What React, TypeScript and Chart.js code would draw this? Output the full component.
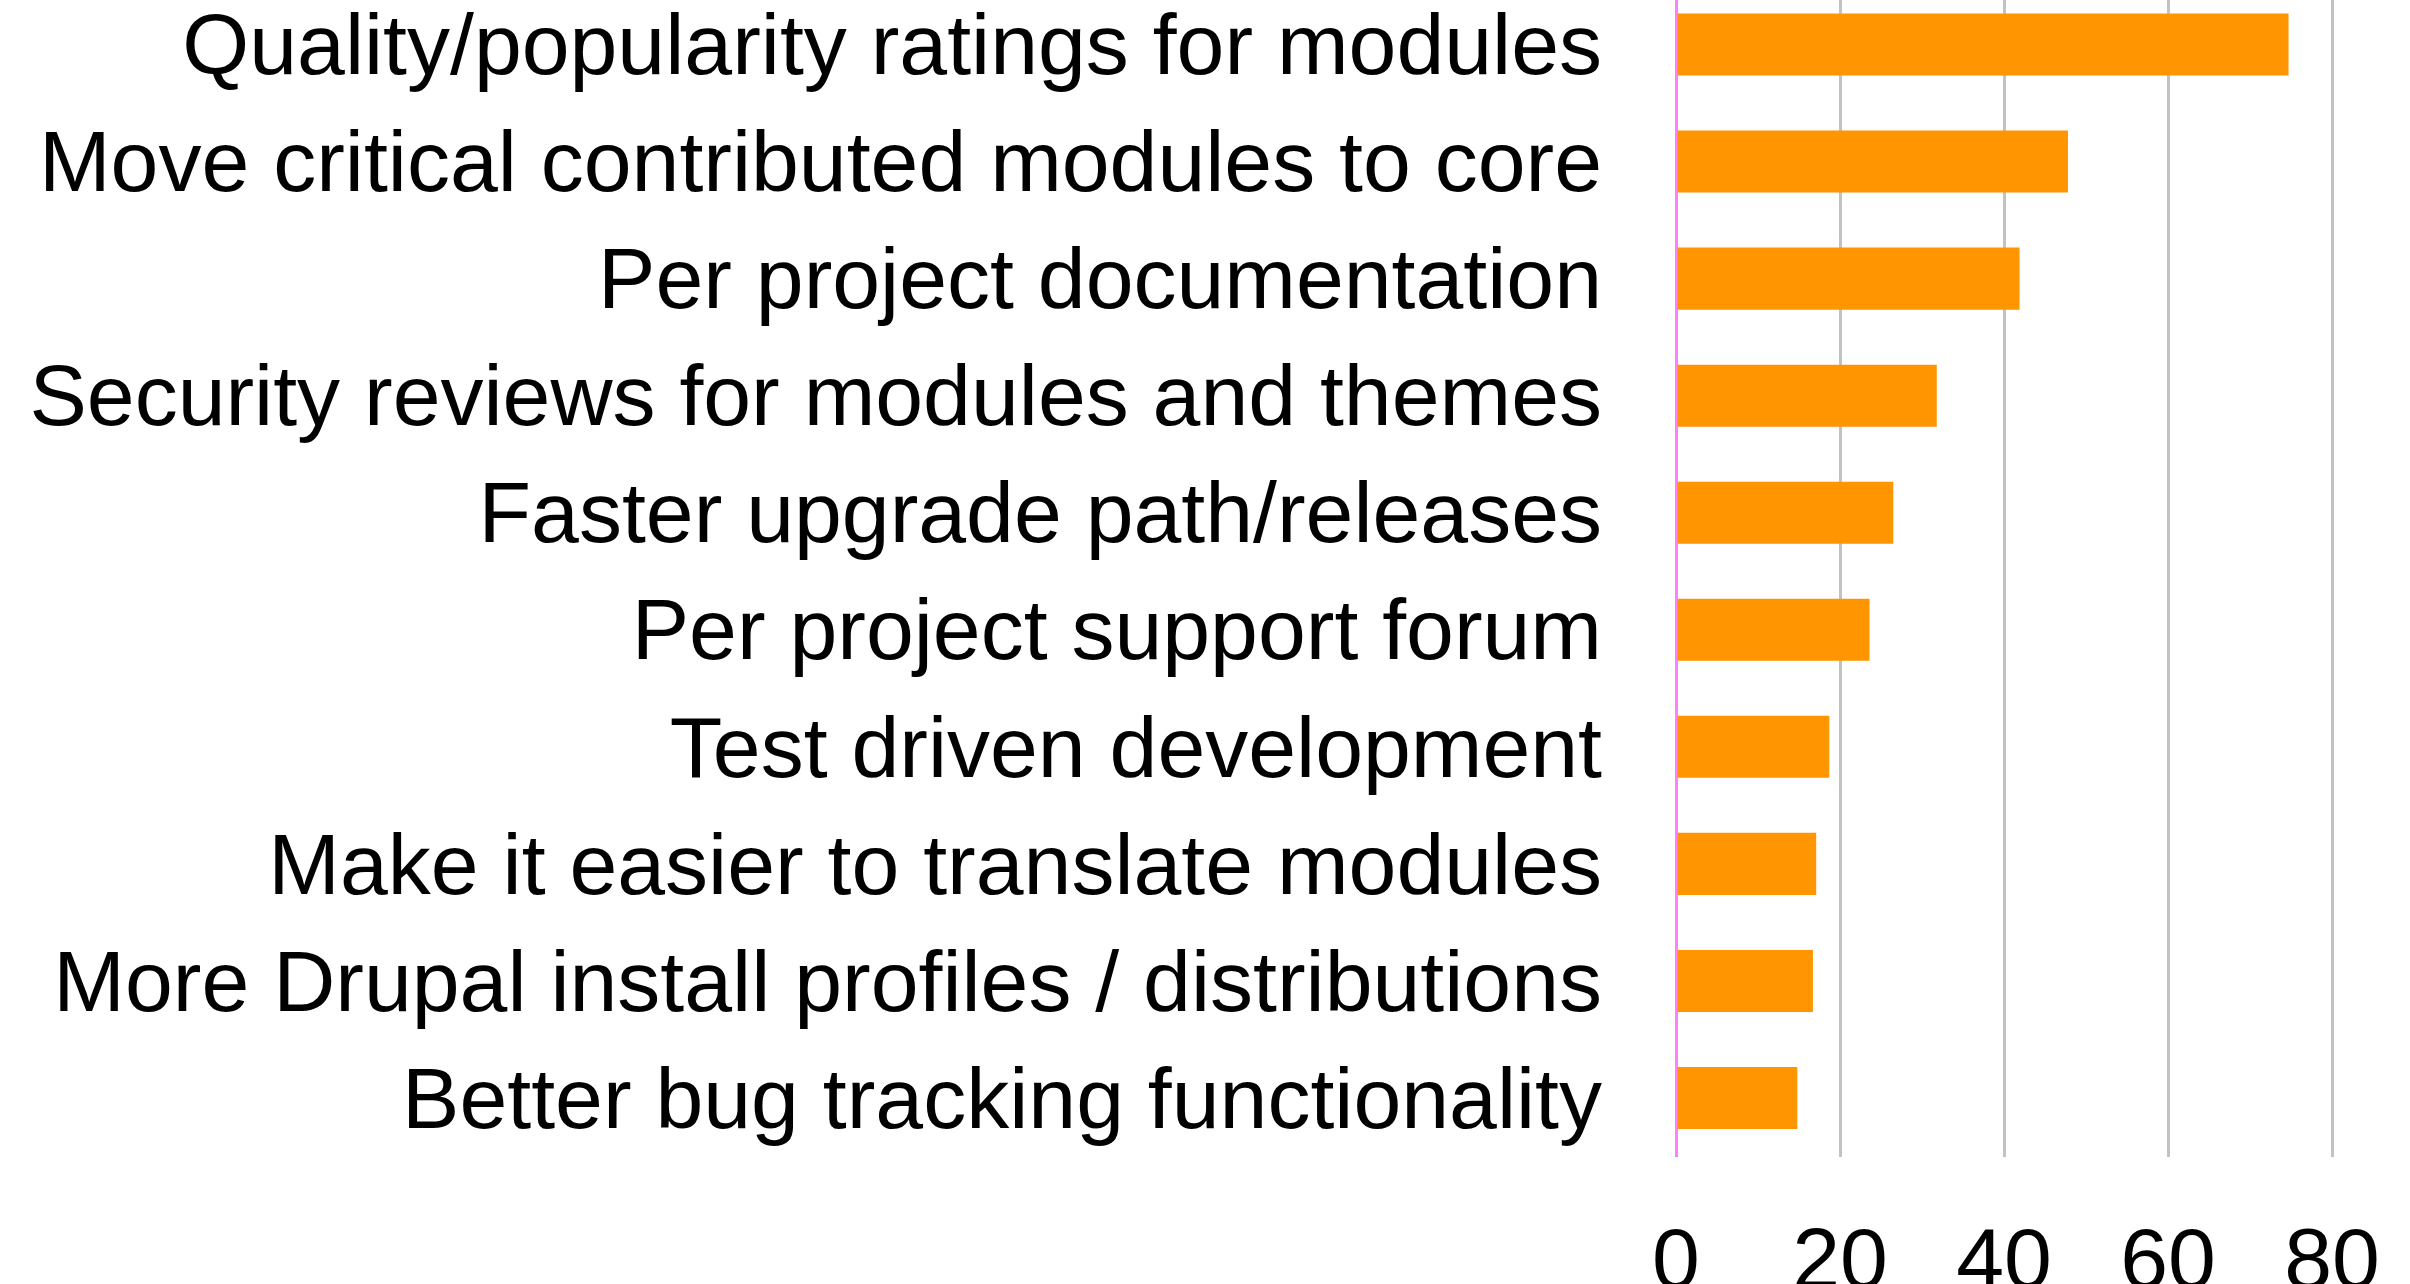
import React, { useEffect, useRef } from "react";
import { Chart, registerables } from "chart.js";

Chart.register(...registerables);

const categories = [
  "Quality/popularity ratings for modules",
  "Move critical contributed modules to core",
  "Per project documentation",
  "Security reviews for modules and themes",
  "Faster upgrade path/releases",
  "Per project support forum",
  "Test driven development",
  "Make it easier to translate modules",
  "More Drupal install profiles / distributions",
  "Better bug tracking functionality",
];

const values = [74.7, 47.8, 41.9, 31.8, 26.5, 23.6, 18.7, 17.1, 16.7, 14.8];

const xTickValues = [0, 20, 40, 60, 80];

const CANVAS_W = 2410;
const CANVAS_H = 1298;
const TOP_OFFSET = -14;

export default function App() {
  const ref = useRef<HTMLCanvasElement | null>(null);

  useEffect(() => {
    if (!ref.current) return;
    const fontFamily = "Helvetica, 'Liberation Sans', Arial, sans-serif";
    const chart = new Chart(ref.current, {
      type: "bar",
      data: {
        labels: categories,
        datasets: [
          {
            data: values,
            backgroundColor: "#ff9500",
            borderWidth: 0,
            categoryPercentage: 1,
            barPercentage: 0.53,
          },
        ],
      },
      options: {
        indexAxis: "y",
        animation: false,
        responsive: false,
        maintainAspectRatio: false,
        layout: { padding: { top: 0, right: 78, left: 0, bottom: 0 } },
        plugins: {
          legend: { display: false },
          tooltip: { enabled: false },
          title: { display: false },
        },
        scales: {
          x: {
            type: "linear",
            min: 0,
            max: 80,
            afterBuildTicks: (scale: any) => {
              scale.ticks = xTickValues.map((v) => ({ value: v }));
            },
            afterFit: (scale: any) => {
              scale.height = 127.5;
              scale.paddingLeft = 0;
              scale.paddingRight = 0;
            },
            border: { display: false },
            grid: {
              drawTicks: false,
              lineWidth: 3,
              color: (ctx: any) =>
                ctx.tick && ctx.tick.value === 0 ? "#ff80ff" : "#c2c2c2",
            },
            ticks: {
              padding: 56,
              color: "#000",
              font: { size: 86, family: fontFamily },
              maxRotation: 0,
              autoSkip: false,
            },
          },
          y: {
            type: "category",
            afterFit: (scale: any) => {
              scale.width = 1676;
              scale.paddingTop = 0;
              scale.paddingBottom = 0;
            },
            border: { display: false },
            grid: { display: false, drawTicks: false },
            ticks: {
              padding: 74,
              labelOffset: 6,
              color: "#000",
              font: { size: 86, family: fontFamily },
              autoSkip: false,
            },
          },
        },
      },
    });
    return () => chart.destroy();
  }, []);

  return (
    <div
      style={{
        position: "absolute",
        left: 0,
        top: TOP_OFFSET,
        width: CANVAS_W,
        height: CANVAS_H,
        background: "#fff",
      }}
    >
      <canvas
        ref={ref}
        width={CANVAS_W}
        height={CANVAS_H}
        style={{ width: CANVAS_W, height: CANVAS_H, display: "block" }}
      />
    </div>
  );
}
